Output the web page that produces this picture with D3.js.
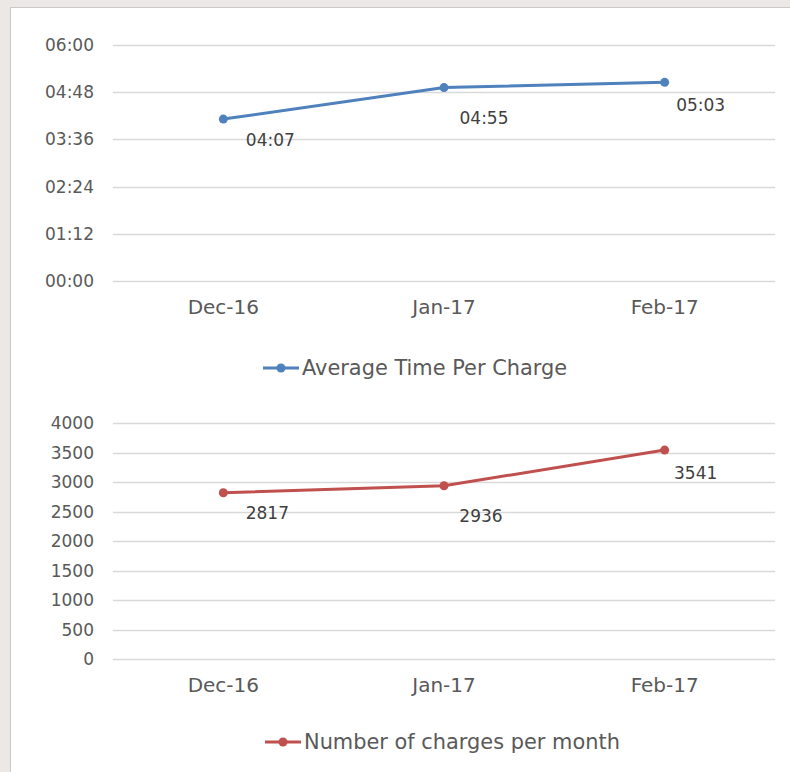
<!DOCTYPE html>
<html>
<head>
<meta charset="utf-8">
<script src="https://cdn.jsdelivr.net/npm/d3@7"></script>
<style>
  body { margin: 0; background: #ebe8e5; }
  #canvas { width: 790px; height: 772px; }
</style>
</head>
<body>
<div id="canvas"></div>
<script>
// data
const months = ['Dec-16', 'Jan-17', 'Feb-17'];
const avgTimeMinutes = [247, 295, 303];   // 04:07, 04:55, 05:03
const chargesPerMonth = [2817, 2936, 3541];
const timeTicks = [0, 72, 144, 216, 288, 360];
const countTicks = [0, 500, 1000, 1500, 2000, 2500, 3000, 3500, 4000];

// layout
const W = 790, H = 772;
const plotLeft = 113, plotRight = 775;
const font = 'DejaVu Sans, sans-serif';
// label offsets from each point, [dx of label centre, dy of baseline]
const timeLabelOffsets = [[47, 27], [40, 36], [36, 29]];
const countLabelOffsets = [[44, 26], [37, 36], [31, 29]];

const svg = d3.select('#canvas')
  .append('svg')
  .attr('width', W)
  .attr('height', H);

// white panel
svg.append('rect')
  .attr('x', 10.5).attr('y', 7.5)
  .attr('width', W).attr('height', H)
  .style('fill', '#fff')
  .style('stroke', '#c9c9c9');

const fmtTime = m => d3.format('02d')(Math.floor(m / 60)) + ':' + d3.format('02d')(m % 60);

const x = d3.scaleBand()
  .domain(months)
  .range([plotLeft, plotRight]);

function drawChart(opts) {
  const g = svg.append('g');
  const y = d3.scaleLinear().domain(opts.domain).range([opts.bottom, opts.top]);

  // gridlines
  g.selectAll('line.grid')
    .data(opts.ticks)
    .enter()
    .append('line')
    .attr('x1', plotLeft).attr('x2', plotRight)
    .attr('y1', d => Math.round(y(d)) + 0.5)
    .attr('y2', d => Math.round(y(d)) + 0.5)
    .style('stroke', '#d9d9d9')
    .style('stroke-width', 1.3);

  // y tick labels
  g.selectAll('text.ytick')
    .data(opts.ticks)
    .enter()
    .append('text')
    .attr('x', 94)
    .attr('y', d => y(d) + 6)
    .attr('text-anchor', 'end')
    .style('font-family', font)
    .style('font-size', opts.tickSize + 'px')
    .style('fill', '#595959')
    .text(opts.tickFormat);

  // x labels
  g.selectAll('text.xtick')
    .data(months)
    .enter()
    .append('text')
    .attr('x', d => x(d) + x.bandwidth() / 2)
    .attr('y', opts.bottom + 33)
    .attr('text-anchor', 'middle')
    .style('font-family', font)
    .style('font-size', '20px')
    .style('fill', '#595959')
    .text(d => d);

  const pts = opts.values.map((v, i) => [x(months[i]) + x.bandwidth() / 2, y(v)]);

  g.append('path')
    .attr('d', d3.line()(pts))
    .style('fill', 'none')
    .style('stroke', opts.color)
    .style('stroke-width', 3)
    .style('stroke-linecap', 'round');

  g.selectAll('circle')
    .data(pts)
    .enter()
    .append('circle')
    .attr('cx', d => d[0])
    .attr('cy', d => d[1])
    .attr('r', 4.5)
    .style('fill', opts.color);

  // data labels
  g.selectAll('text.lbl')
    .data(opts.values)
    .enter()
    .append('text')
    .attr('x', (d, i) => pts[i][0] + opts.labelOffsets[i][0])
    .attr('y', (d, i) => pts[i][1] + opts.labelOffsets[i][1])
    .attr('text-anchor', 'middle')
    .style('font-family', font)
    .style('font-size', '17px')
    .style('fill', '#404040')
    .text(opts.labelFormat);

  // legend
  const lg = g.append('g').attr('transform', `translate(${opts.legendX}, ${opts.legendY})`);
  lg.append('line')
    .attr('x1', 0).attr('x2', 36)
    .style('stroke', opts.color)
    .style('stroke-width', 3);
  lg.append('circle')
    .attr('cx', 18).attr('r', 4.5)
    .style('fill', opts.color);
  lg.append('text')
    .attr('x', 39)
    .attr('y', 7)
    .style('font-family', font)
    .style('font-size', '20.9px')
    .style('fill', '#595959')
    .text(opts.legend);
}

drawChart({
  domain: [0, 360], top: 45, bottom: 281,
  ticks: timeTicks, tickFormat: fmtTime, tickSize: 17,
  values: avgTimeMinutes, labelFormat: fmtTime, labelOffsets: timeLabelOffsets,
  color: '#4f81bd',
  legend: 'Average Time Per Charge', legendX: 263, legendY: 368
});

drawChart({
  domain: [0, 4000], top: 423, bottom: 659,
  ticks: countTicks, tickFormat: d => d, tickSize: 17,
  values: chargesPerMonth, labelFormat: d => d, labelOffsets: countLabelOffsets,
  color: '#c0504d',
  legend: 'Number of charges per month', legendX: 265, legendY: 742
});
</script>
</body>
</html>
